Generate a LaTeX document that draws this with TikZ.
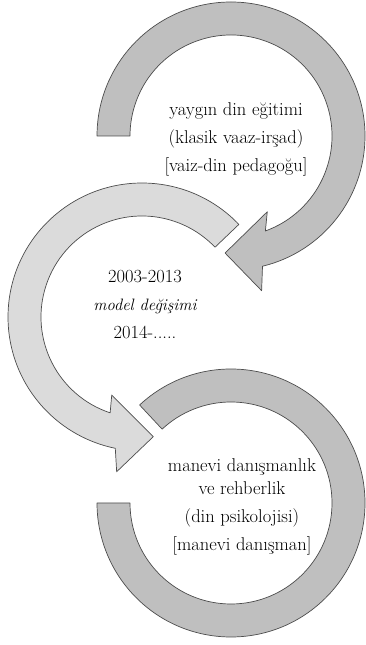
\documentclass[tikz,border=0pt]{standalone}
\usepackage{fontspec}
\begin{document}
\begin{tikzpicture}[x=1pt,y=1pt,
		ring/.style={draw=black!70,line width=0.7,line join=round},
		darkring/.style={ring,fill=black!25},
		lightring/.style={ring,fill=black!14},
		caption/.style={align=center,inner sep=0pt,font=\fontsize{18.5}{28}\selectfont}]
			\useasboundingbox (0,0) rectangle (365,645);
			\coordinate (O1) at (231,509);
			\coordinate (O2) at (142,328);
			\coordinate (O3) at (231,142);
			% rings
			\draw [darkring,shift={(O1)}] (180:134) arc (180:-76.4:134) -- (-78.8:157.7) -- (-92.9:117.2) -- (-64.4:84) -- (-70.1:101) arc (-70.1:180:101) -- cycle;
			\draw [lightring,shift={(O2)}] (43.7:134) arc (43.7:258.5:134) -- (260.7:156.8) -- (275.4:120.2) -- (248.8:83.7) -- (251.6:101) arc (251.6:43.7:101) -- cycle;
			\draw [darkring,shift={(O3)}] (133:134) arc (133:-180:134) -- (180:101) arc (-180:133:101) -- cycle;
			% texts
			\node [caption] (T1) at (236,506) {yaygın din eğitimi\\(klasik vaaz-irşad)\\{[}vaiz-din pedagoğu{]}};
			\node [caption] (T2) at (145,340) {2003-2013\\{\itshape\fontsize{16.5}{28}\selectfont model değişimi}\\2014-.....};
			\node [caption] (T3) at (242,138) {manevi danışmanlık\\[-5pt]ve rehberlik\\(din psikolojisi)\\{[}manevi danışman{]}};
		\end{tikzpicture}
\end{document}
